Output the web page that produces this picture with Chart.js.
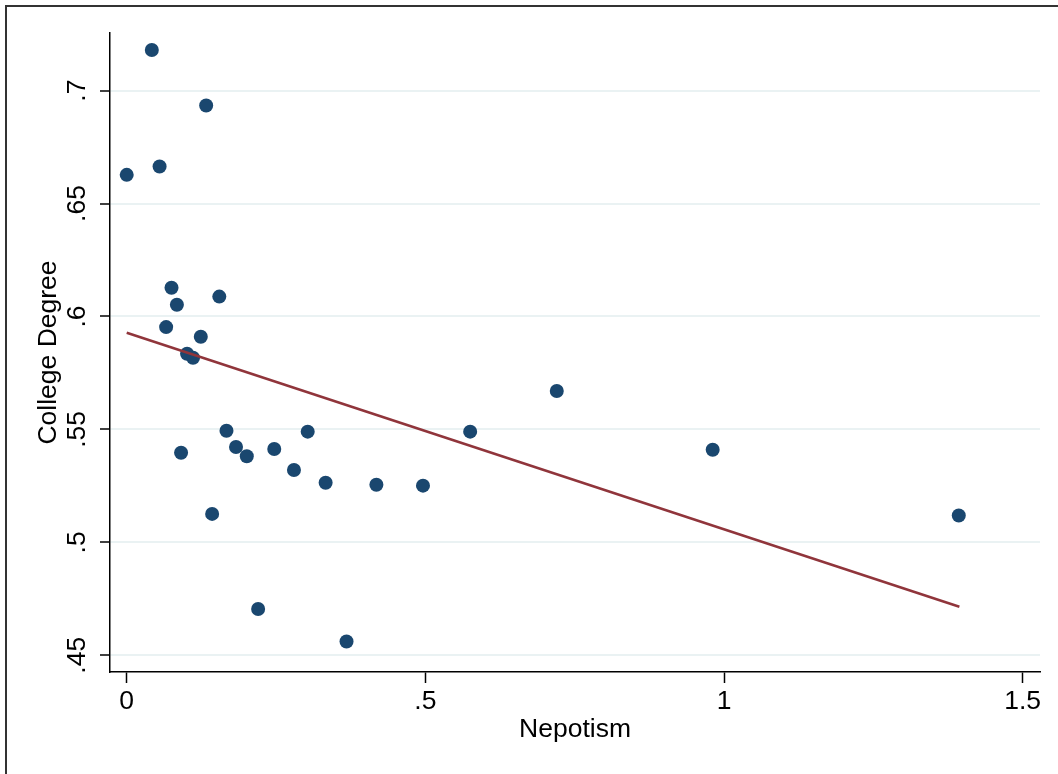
<!DOCTYPE html>
<html>
<head>
<meta charset="utf-8">
<script src="https://cdn.jsdelivr.net/npm/chart.js@4"></script>
<style>
  html, body { margin: 0; padding: 0; background: #fff; overflow: hidden; }
  #frame { position: absolute; left: 5px; top: 5px; width: 1200px; height: 900px; border: 2px solid #333; }
  #wrap { position: absolute; left: 0; top: 0; width: 1058px; height: 774px; }
</style>
</head>
<body>
<div id="frame"></div>
<div id="wrap"><canvas id="chart" width="1058" height="774"></canvas></div>
<script>
// nepotism index vs share with college degree
var nepotism = [0, 0.042, 0.055, 0.133, 0.075, 0.084, 0.066, 0.155, 0.124, 0.101, 0.111, 0.091,
                0.167, 0.183, 0.201, 0.247, 0.303, 0.280, 0.333, 0.418, 0.496, 0.575, 0.720,
                0.981, 1.393, 0.143, 0.220, 0.368]
var college = [0.6627, 0.7180, 0.6664, 0.6934, 0.6127, 0.6052, 0.5953, 0.6088, 0.5910, 0.5835, 0.5817, 0.5397,
               0.5494, 0.5422, 0.5381, 0.5413, 0.5490, 0.5320, 0.5264, 0.5255, 0.5251, 0.5490, 0.5670,
               0.5410, 0.5119, 0.5126, 0.4705, 0.4561]

// fitted line endpoints
var fitX = [0, 1.394]
var fitY = [0.5928, 0.4715]

var xTicks = [0, 0.5, 1, 1.5]
var xTickLabels = ['0', '.5', '1', '1.5']
var yTicks = [0.45, 0.5, 0.55, 0.6, 0.65, 0.7]
var yTickLabels = ['.45', '.5', '.55', '.6', '.65', '.7']

var pts = [], fit = []
for (var i = 0; i < nepotism.length; i++) pts.push({x: nepotism[i], y: college[i]})
for (var j = 0; j < fitX.length; j++) fit.push({x: fitX[j], y: fitY[j]})

var font = "'Liberation Sans', Arial, Helvetica, sans-serif"

var ctx = document.getElementById('chart').getContext('2d')
new Chart(ctx, {
    type: 'scatter',
    data: {
        datasets: [{
            label: 'College Degree',
            data: pts,
            backgroundColor: '#1a476f',
            borderColor: '#1a476f',
            pointRadius: 7,
            pointHoverRadius: 7,
            borderWidth: 0,
            order: 2
        }, {
            type: 'line',
            label: 'Fitted values',
            data: fit,
            borderColor: '#90353b',
            borderWidth: 2.5,
            pointRadius: 0,
            fill: false,
            order: 1
        }]
    },
    options: {
        responsive: false,
        animation: false,
        layout: { padding: { top: 33, right: 18, left: 0, bottom: 0 } },
        plugins: { legend: { display: false }, tooltip: { enabled: false } },
        scales: {
            x: {
                type: 'linear',
                min: -0.028,
                max: 1.529,
                afterFit: function(scale) { scale.height = 102 },
                afterBuildTicks: function(scale) {
                    scale.ticks = xTicks.map(function(v) { return {value: v} })
                },
                ticks: {
                    color: '#000',
                    font: { family: font, size: 26.5 },
                    padding: 3,
                    maxRotation: 0,
                    callback: function(v) { return xTickLabels[xTicks.indexOf(v)] }
                },
                grid: { drawOnChartArea: false, tickColor: '#000', tickLength: 11, tickWidth: 1.5 },
                border: { color: '#000', width: 1.5 },
                title: {
                    display: true,
                    text: 'Nepotism',
                    color: '#000',
                    font: { family: font, size: 26.5 },
                    padding: { top: 4, bottom: 28 }
                }
            },
            y: {
                type: 'linear',
                min: 0.4426,
                max: 0.7255,
                afterFit: function(scale) { scale.width = 110 },
                afterBuildTicks: function(scale) {
                    scale.ticks = yTicks.map(function(v) { return {value: v} })
                },
                ticks: {
                    color: '#000',
                    font: { family: font, size: 26.5 },
                    padding: 4,
                    minRotation: 90,
                    maxRotation: 90,
                    crossAlign: 'center',
                    callback: function(v) { return yTickLabels[yTicks.indexOf(v)] }
                },
                grid: { color: '#eaf2f3', lineWidth: 2, tickColor: '#000', tickLength: 10, tickWidth: 1.5 },
                border: { color: '#000', width: 1.5 },
                title: {
                    display: true,
                    text: 'College Degree',
                    color: '#000',
                    font: { family: font, size: 26.5 },
                    padding: { top: 33, bottom: 4 }
                }
            }
        }
    }
})
</script>
</body>
</html>
